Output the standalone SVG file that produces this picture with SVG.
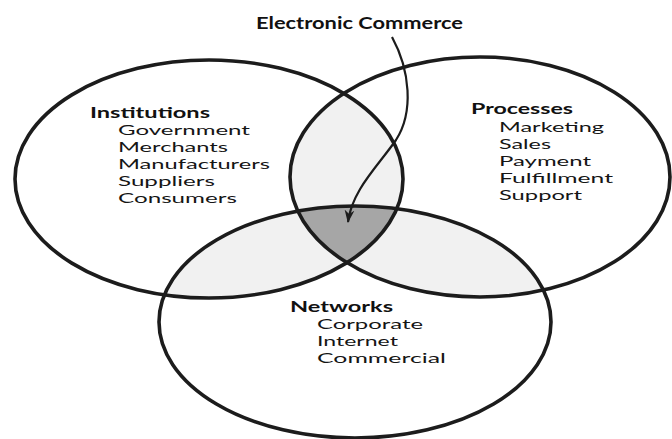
<svg xmlns="http://www.w3.org/2000/svg" width="672" height="439" viewBox="0 0 672 439">
  <style>
    .ring { fill: none; stroke: #1c1c1c; stroke-width: 3.6; }
    .pair { fill: #f1f1f1; }
    .core { fill: #a6a6a6; }
    .head { font-family: Lato, "Open Sans", "Liberation Sans", sans-serif; font-weight: bold; font-size: 14.5px; fill: #111; }
    .item { font-family: Lato, "Open Sans", "Liberation Sans", sans-serif; font-size: 14px; fill: #151515; }
    .title { font-family: Lato, "Open Sans", "Liberation Sans", sans-serif; font-weight: bold; font-size: 17px; fill: #111; }
    .link { fill: none; stroke: #1c1c1c; stroke-width: 2.2; }
  </style>
  <defs>
    <clipPath id="clipA"><ellipse cx="209" cy="179" rx="194" ry="119"/></clipPath>
    <clipPath id="clipB"><ellipse cx="480" cy="177" rx="190" ry="120"/></clipPath>
    <marker id="arrow" viewBox="0 0 12 10" refX="11" refY="5" markerWidth="13" markerHeight="11" orient="auto" markerUnits="userSpaceOnUse">
      <path d="M0,0.5 L12,5 L0,9.5 L3.5,5 Z" fill="#1c1c1c"/>
    </marker>
  </defs>

  <rect width="672" height="439" fill="#ffffff"/>

  <!-- overlap shading -->
  <g id="overlaps">
    <g clip-path="url(#clipA)"><ellipse class="pair" cx="480" cy="177" rx="190" ry="120"/></g>
    <g clip-path="url(#clipA)"><ellipse class="pair" cx="355" cy="322" rx="196" ry="116"/></g>
    <g clip-path="url(#clipB)"><ellipse class="pair" cx="355" cy="322" rx="196" ry="116"/></g>
    <g clip-path="url(#clipA)"><g clip-path="url(#clipB)"><ellipse class="core" cx="355" cy="322" rx="196" ry="116"/></g></g>
  </g>

  <g id="institutions">
    <ellipse class="ring" cx="209" cy="179" rx="194" ry="119"/>
    <text class="head" x="90" y="118" textLength="120" lengthAdjust="spacingAndGlyphs">Institutions</text>
    <text class="item" x="118" y="135" textLength="132" lengthAdjust="spacingAndGlyphs">Government</text>
    <text class="item" x="118" y="152" textLength="110" lengthAdjust="spacingAndGlyphs">Merchants</text>
    <text class="item" x="118" y="169" textLength="152" lengthAdjust="spacingAndGlyphs">Manufacturers</text>
    <text class="item" x="118" y="186" textLength="97" lengthAdjust="spacingAndGlyphs">Suppliers</text>
    <text class="item" x="118" y="203" textLength="119" lengthAdjust="spacingAndGlyphs">Consumers</text>
  </g>

  <g id="processes">
    <ellipse class="ring" cx="480" cy="177" rx="190" ry="120"/>
    <text class="head" x="471" y="114" textLength="102" lengthAdjust="spacingAndGlyphs">Processes</text>
    <text class="item" x="499" y="132" textLength="105" lengthAdjust="spacingAndGlyphs">Marketing</text>
    <text class="item" x="499" y="149" textLength="52" lengthAdjust="spacingAndGlyphs">Sales</text>
    <text class="item" x="499" y="166" textLength="92" lengthAdjust="spacingAndGlyphs">Payment</text>
    <text class="item" x="499" y="183" textLength="114" lengthAdjust="spacingAndGlyphs">Fulfillment</text>
    <text class="item" x="499" y="200" textLength="83" lengthAdjust="spacingAndGlyphs">Support</text>
  </g>

  <g id="networks">
    <ellipse class="ring" cx="355" cy="322" rx="196" ry="116"/>
    <text class="head" x="290" y="312" textLength="103" lengthAdjust="spacingAndGlyphs">Networks</text>
    <text class="item" x="317" y="329" textLength="106" lengthAdjust="spacingAndGlyphs">Corporate</text>
    <text class="item" x="317" y="346" textLength="81" lengthAdjust="spacingAndGlyphs">Internet</text>
    <text class="item" x="317" y="363" textLength="129" lengthAdjust="spacingAndGlyphs">Commercial</text>
  </g>

  <g id="electronic-commerce">
    <text class="title" x="256" y="29" textLength="207" lengthAdjust="spacingAndGlyphs">Electronic Commerce</text>
  </g>

  <g id="connectors">
    <path class="link" d="M392,37 C410,70 414,112 396,140 C378,166 352,190 348,222" marker-end="url(#arrow)"/>
  </g>
</svg>
